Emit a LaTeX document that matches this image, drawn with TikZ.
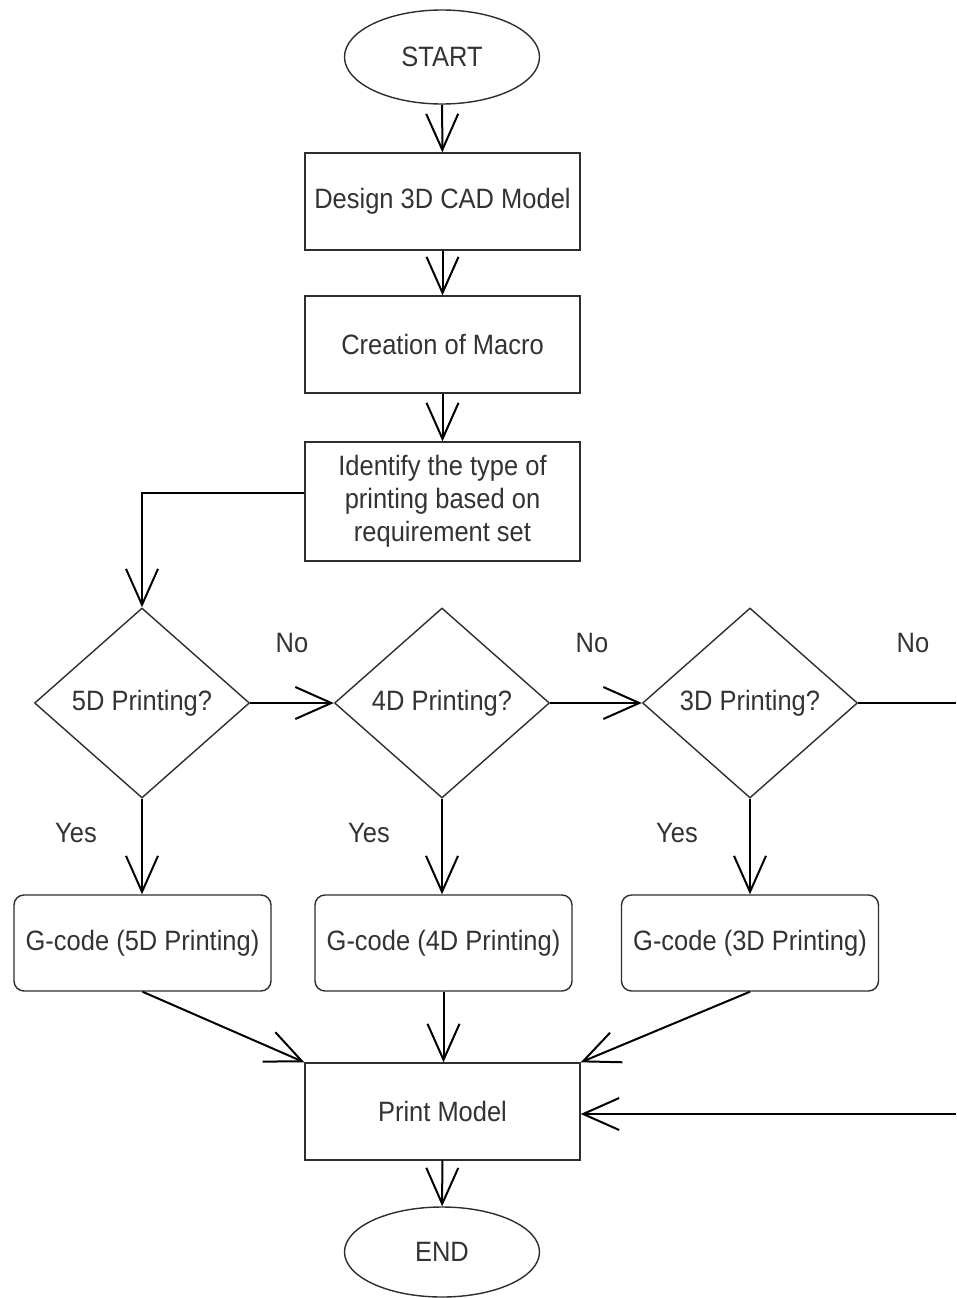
\documentclass[tikz,border=0pt]{standalone}
\usepackage{fontspec}
\setmainfont{Liberation Sans}[FakeStretch=0.91]
\usetikzlibrary{shapes.geometric,arrows.meta,calc}
\definecolor{txt}{HTML}{333333}
\definecolor{edge}{HTML}{2E2E2E}
\tikzset{
  base/.style={draw=edge, line width=1.4pt, text=txt, font=\fontsize{28}{33}\selectfont, align=center, inner sep=0pt},
  term/.style={base, ellipse, minimum width=195pt, minimum height=94pt},
  proc/.style={base, rectangle, minimum width=275pt, minimum height=97pt},
  dec/.style={base, diamond, minimum width=215pt, minimum height=190pt},
  gbox/.style={base, rectangle, rounded corners=10pt, minimum width=257pt, minimum height=96pt},
  lbl/.style={text=txt, font=\fontsize{28}{33}\selectfont, inner sep=0pt},
  conn/.style={draw=black, line width=2pt},
  arr/.style={conn, -{Straight Barb[length=36pt,width=32pt,line width=2pt]}}
}
\begin{document}
\begin{tikzpicture}[x=1pt,y=-1pt]
\useasboundingbox (0,0) rectangle (956,1298);
\fill[white] (0,0) rectangle (956,1298);
\node[term] (start) at (442,57) {START};
\node[proc] (design) at (442.5,201.5) {Design 3D CAD Model};
\node[proc] (macro) at (442.5,344.5) {Creation of Macro};
\node[proc, minimum height=119pt] (ident) at (442.5,501.5) {Identify the type of\\printing based on\\requirement set};
\node[dec] (d5) at (142,703) {5D Printing?};
\node[dec] (d4) at (442,703) {4D Printing?};
\node[dec] (d3) at (750,703) {3D Printing?};
\node[gbox] (g5) at (142.5,943) {G-code (5D Printing)};
\node[gbox] (g4) at (443.5,943) {G-code (4D Printing)};
\node[gbox] (g3) at (750,943) {G-code (3D Printing)};
\node[proc] (pm) at (442.5,1111.5) {Print Model};
\node[term, minimum height=90pt] (end) at (442,1252) {END};
\node[lbl] (no1) at (292,643) {No};
\node[lbl] (no2) at (592,643) {No};
\node[lbl] (no3) at (913,643) {No};
\node[lbl] (yes1) at (76,833) {Yes};
\node[lbl] (yes2) at (369,833) {Yes};
\node[lbl] (yes3) at (677,833) {Yes};
\coordinate (r1) at (956,703);
\coordinate (r2) at (956,1114);
\draw[arr] (start) -- (design);
\draw[arr] (design) -- (macro);
\draw[arr] (macro) -- (ident);
\draw[arr] ([yshift=9pt]ident.west) -| (d5.north);
\draw[arr] (d5.east) -- (d4.west);
\draw[arr] (d4.east) -- (d3.west);
\draw[conn] (d3.east) -- (r1);
\draw[arr] (d5.south) -- (d5.south |- g5.north);
\draw[arr] (d4.south) -- (d4.south |- g4.north);
\draw[arr] (d3.south) -- (d3.south |- g3.north);
\draw[arr] (g5.south) -- (pm.north west);
\draw[arr] (g4.south) -- (g4.south |- pm.north);
\draw[arr] (g3.south) -- (pm.north east);
\draw[arr] (r2) -- (r2 -| pm.east);
\draw[arr] (pm) -- (end);
\end{tikzpicture}
\end{document}
